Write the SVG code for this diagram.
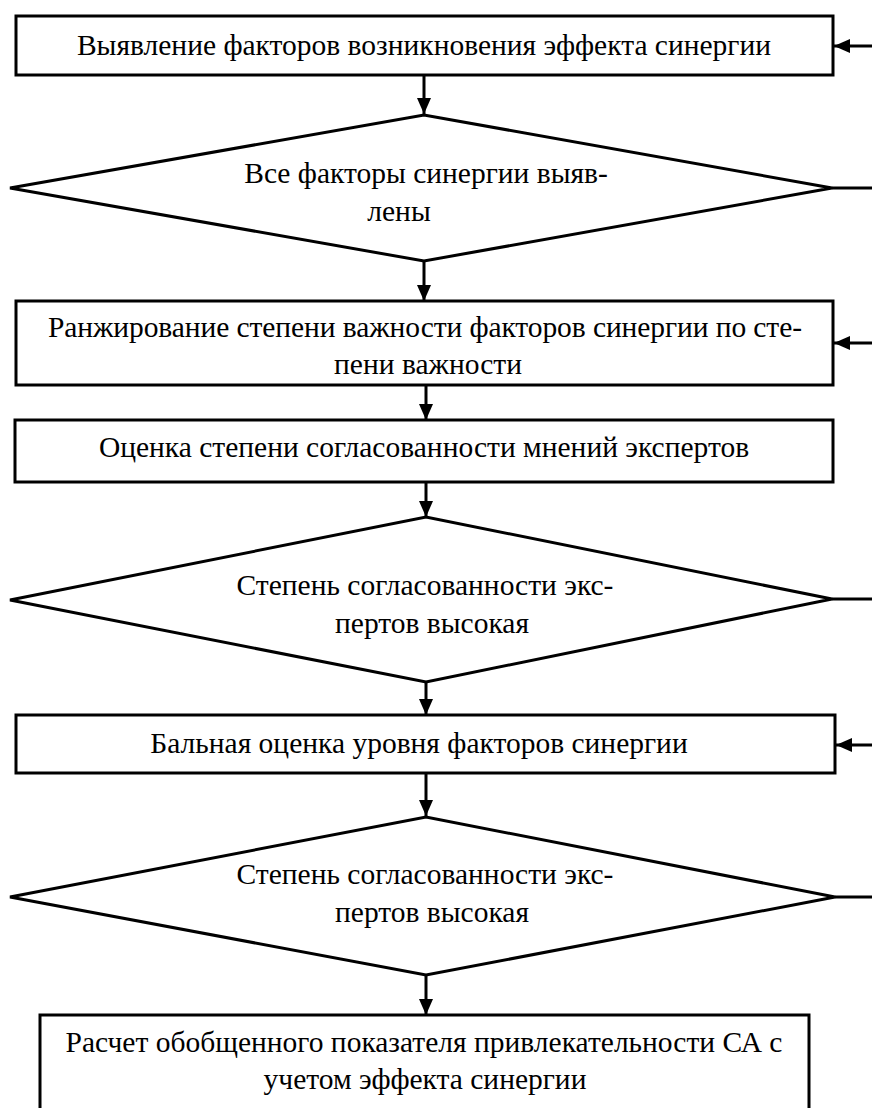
<svg xmlns="http://www.w3.org/2000/svg" width="872" height="1108" viewBox="0 0 872 1108">
  <style>
    .shape { fill: #ffffff; stroke: #000000; stroke-width: 3; }
    .link { fill: none; stroke: #000000; stroke-width: 3; }
    .label { font-family: "Liberation Serif", "Times New Roman", serif; font-size: 29.5px; fill: #000000; text-anchor: middle; }
  </style>
  <defs>
    <marker id="arrow" viewBox="0 0 16 14" refX="16" refY="7" markerWidth="16" markerHeight="14" markerUnits="userSpaceOnUse" orient="auto">
      <path d="M0,0 L16,7 L0,14 Z" fill="#000000"/>
    </marker>
  </defs>
  <rect width="872" height="1108" fill="#ffffff"/>

  <g id="connectors">
    <line class="link" x1="424" y1="75" x2="424" y2="114" marker-end="url(#arrow)"/>
    <line class="link" x1="424" y1="261" x2="424" y2="301" marker-end="url(#arrow)"/>
    <line class="link" x1="426" y1="385" x2="426" y2="420" marker-end="url(#arrow)"/>
    <line class="link" x1="426" y1="482" x2="426" y2="517" marker-end="url(#arrow)"/>
    <line class="link" x1="426" y1="682" x2="426" y2="715" marker-end="url(#arrow)"/>
    <line class="link" x1="426" y1="773" x2="426" y2="816" marker-end="url(#arrow)"/>
    <line class="link" x1="426" y1="975" x2="426" y2="1015" marker-end="url(#arrow)"/>
    <!-- return lines leaving the decisions to the right -->
    <line class="link" x1="832" y1="188" x2="872" y2="188"/>
    <line class="link" x1="832" y1="599" x2="872" y2="599"/>
    <line class="link" x1="835" y1="897" x2="872" y2="897"/>
    <!-- return lines entering the process steps from the right -->
    <line class="link" x1="872" y1="46" x2="834" y2="46" marker-end="url(#arrow)"/>
    <line class="link" x1="872" y1="343" x2="834" y2="343" marker-end="url(#arrow)"/>
    <line class="link" x1="872" y1="745" x2="836" y2="745" marker-end="url(#arrow)"/>
  </g>

  <g id="identify-factors">
    <rect class="shape" x="16" y="16" width="817" height="59"/>
    <text class="label" x="424" y="55">Выявление факторов возникновения эффекта синергии</text>
  </g>

  <g id="all-factors-found">
    <polygon class="shape" points="10,188 424,115 832,188 424,261"/>
    <text class="label" x="426" y="183">Все факторы синергии выяв-</text>
    <text class="label" x="399" y="221">лены</text>
  </g>

  <g id="ranking">
    <rect class="shape" x="16" y="301" width="817" height="84"/>
    <text class="label" x="425" y="337" textLength="754" lengthAdjust="spacing">Ранжирование степени важности факторов синергии по сте-</text>
    <text class="label" x="428" y="374">пени важности</text>
  </g>

  <g id="consistency">
    <rect class="shape" x="15" y="420" width="818" height="62"/>
    <text class="label" x="424" y="457">Оценка степени согласованности мнений экспертов</text>
  </g>

  <g id="consistency-high-1">
    <polygon class="shape" points="10,600 426,517 832,599 426,682"/>
    <text class="label" x="425" y="595">Степень согласованности экс-</text>
    <text class="label" x="432" y="633">пертов высокая</text>
  </g>

  <g id="score">
    <rect class="shape" x="16" y="715" width="819" height="58"/>
    <text class="label" x="419" y="753">Бальная оценка уровня факторов синергии</text>
  </g>

  <g id="consistency-high-2">
    <polygon class="shape" points="10,897 426,817 835,897 426,975"/>
    <text class="label" x="425" y="884">Степень согласованности экс-</text>
    <text class="label" x="432" y="922">пертов высокая</text>
  </g>

  <g id="calculation">
    <path class="shape" d="M40,1112 L40,1015 L809,1015 L809,1112"/>
    <text class="label" x="424" y="1052">Расчет обобщенного показателя привлекательности СА с</text>
    <text class="label" x="425" y="1089">учетом эффекта синергии</text>
  </g>
</svg>
